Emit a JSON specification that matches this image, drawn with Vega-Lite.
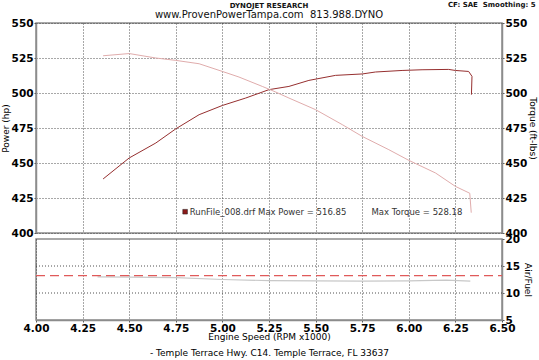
{
  "$schema": "https://vega.github.io/schema/vega-lite/v6.json",
  "background": "white",
  "padding": {"left": 0, "top": 0, "right": 0, "bottom": 0},
  "autosize": {"type": "pad"},
  "bounds": "flush",
  "spacing": 6,
  "config": {
    "font": "DejaVu Sans",
    "view": {"stroke": "#8c8c8c", "strokeWidth": 1.5},
    "axis": {
      "domainColor": "#8c8c8c",
      "domainWidth": 1.5,
      "tickColor": "#555555",
      "tickSize": 2,
      "labelFont": "DejaVu Sans",
      "labelFontWeight": "bold",
      "labelFontSize": 10.5,
      "labelColor": "#000000",
      "labelPadding": 1,
      "labelFlush": false,
      "labelOverlap": false,
      "titleFont": "DejaVu Sans",
      "titleFontWeight": "normal",
      "titleFontSize": 9,
      "titleColor": "#000000",
      "gridColor": "#333333",
      "gridDash": [1, 2],
      "gridWidth": 1,
      "gridOpacity": 0.85
    }
  },
  "vconcat": [
    {
      "width": 466,
      "height": 210,
      "layer": [
        {
          "layer": [
            {
              "data": {"values": [
                {"i": 1, "rpm": 4.36, "hp": 438.6},
                {"i": 2, "rpm": 4.50, "hp": 453.6},
                {"i": 3, "rpm": 4.643, "hp": 464.3},
                {"i": 4, "rpm": 4.75, "hp": 474.4},
                {"i": 5, "rpm": 4.875, "hp": 484.5},
                {"i": 6, "rpm": 5.0, "hp": 491.1},
                {"i": 7, "rpm": 5.125, "hp": 496.4},
                {"i": 8, "rpm": 5.25, "hp": 502.4},
                {"i": 9, "rpm": 5.357, "hp": 504.7},
                {"i": 10, "rpm": 5.464, "hp": 509.0},
                {"i": 11, "rpm": 5.607, "hp": 512.6},
                {"i": 12, "rpm": 5.75, "hp": 513.6},
                {"i": 13, "rpm": 5.821, "hp": 515.0},
                {"i": 14, "rpm": 5.964, "hp": 516.1},
                {"i": 15, "rpm": 6.071, "hp": 516.6},
                {"i": 16, "rpm": 6.214, "hp": 516.85},
                {"i": 17, "rpm": 6.25, "hp": 516.1},
                {"i": 18, "rpm": 6.321, "hp": 515.4},
                {"i": 19, "rpm": 6.339, "hp": 511.9},
                {"i": 20, "rpm": 6.336, "hp": 498.8}
              ]},
              "mark": {"type": "line", "color": "#962f2f", "strokeWidth": 1},
              "encoding": {
                "x": {"field": "rpm", "type": "quantitative", "scale": {"domain": [4, 6.5], "nice": false, "zero": false},
                      "axis": {"values": [4, 4.25, 4.5, 4.75, 5, 5.25, 5.5, 5.75, 6, 6.25, 6.5], "labels": false, "ticks": false, "domain": false, "title": null, "grid": true}},
                "y": {"field": "hp", "type": "quantitative", "scale": {"domain": [400, 550], "nice": false, "zero": false},
                      "axis": {"values": [400, 425, 450, 475, 500, 525, 550], "format": "d", "title": "Power (hp)", "titlePadding": 1, "grid": true}},
                "order": {"field": "i"}
              }
            },
            {
              "data": {"values": [{"t": "DYNOJET RESEARCH"}]},
              "mark": {"type": "text", "fontSize": 7, "fontWeight": "bold", "color": "#111111", "align": "center", "baseline": "middle"},
              "encoding": {"text": {"field": "t"},
                "x": {"datum": 5.25, "type": "quantitative", "axis": {"values": [4, 4.25, 4.5, 4.75, 5, 5.25, 5.5, 5.75, 6, 6.25, 6.5], "labels": false, "ticks": false, "domain": false, "title": null, "grid": true}},
                "y": {"datum": 562.5, "type": "quantitative", "axis": {"values": [400, 425, 450, 475, 500, 525, 550], "format": "d", "title": "Power (hp)", "titlePadding": 1, "grid": true}}}
            },
            {
              "data": {"values": [{"t": "www.ProvenPowerTampa.com\u00a0 813.988.DYNO"}]},
              "mark": {"type": "text", "fontSize": 10, "color": "#111111", "align": "center", "baseline": "middle"},
              "encoding": {"text": {"field": "t"},
                "x": {"datum": 5.25, "type": "quantitative", "axis": {"values": [4, 4.25, 4.5, 4.75, 5, 5.25, 5.5, 5.75, 6, 6.25, 6.5], "labels": false, "ticks": false, "domain": false, "title": null, "grid": true}},
                "y": {"datum": 555.8, "type": "quantitative", "axis": {"values": [400, 425, 450, 475, 500, 525, 550], "format": "d", "title": "Power (hp)", "titlePadding": 1, "grid": true}}}
            },
            {
              "data": {"values": [{"t": "CF: SAE\u00a0 Smoothing: 5"}]},
              "mark": {"type": "text", "fontSize": 7, "fontWeight": "bold", "color": "#111111", "align": "right", "baseline": "middle"},
              "encoding": {"text": {"field": "t"},
                "x": {"datum": 6.68, "type": "quantitative", "axis": {"values": [4, 4.25, 4.5, 4.75, 5, 5.25, 5.5, 5.75, 6, 6.25, 6.5], "labels": false, "ticks": false, "domain": false, "title": null, "grid": true}},
                "y": {"datum": 562.6, "type": "quantitative", "axis": {"values": [400, 425, 450, 475, 500, 525, 550], "format": "d", "title": "Power (hp)", "titlePadding": 1, "grid": true}}}
            },
            {
              "data": {"values": [{"t": "RunFile_008.drf"}]},
              "mark": {"type": "point", "shape": "square", "size": 22, "filled": true, "color": "#8b1a1a", "stroke": "#222222", "strokeWidth": 0.5, "opacity": 1},
              "encoding": {
                "x": {"datum": 4.80, "type": "quantitative", "axis": {"values": [4, 4.25, 4.5, 4.75, 5, 5.25, 5.5, 5.75, 6, 6.25, 6.5], "labels": false, "ticks": false, "domain": false, "title": null, "grid": true}},
                "y": {"datum": 415.2, "type": "quantitative", "axis": {"values": [400, 425, 450, 475, 500, 525, 550], "format": "d", "title": "Power (hp)", "titlePadding": 1, "grid": true}}}
            },
            {
              "data": {"values": [{"t": "RunFile_008.drf Max Power = 516.85"}]},
              "mark": {"type": "text", "fontSize": 8.5, "color": "#333333", "align": "left", "baseline": "middle"},
              "encoding": {"text": {"field": "t"},
                "x": {"datum": 4.825, "type": "quantitative", "axis": {"values": [4, 4.25, 4.5, 4.75, 5, 5.25, 5.5, 5.75, 6, 6.25, 6.5], "labels": false, "ticks": false, "domain": false, "title": null, "grid": true}},
                "y": {"datum": 415.2, "type": "quantitative", "axis": {"values": [400, 425, 450, 475, 500, 525, 550], "format": "d", "title": "Power (hp)", "titlePadding": 1, "grid": true}}}
            },
            {
              "data": {"values": [{"t": "Max Torque = 528.18"}]},
              "mark": {"type": "text", "fontSize": 8.5, "color": "#333333", "align": "left", "baseline": "middle"},
              "encoding": {"text": {"field": "t"},
                "x": {"datum": 5.80, "type": "quantitative", "axis": {"values": [4, 4.25, 4.5, 4.75, 5, 5.25, 5.5, 5.75, 6, 6.25, 6.5], "labels": false, "ticks": false, "domain": false, "title": null, "grid": true}},
                "y": {"datum": 415.2, "type": "quantitative", "axis": {"values": [400, 425, 450, 475, 500, 525, 550], "format": "d", "title": "Power (hp)", "titlePadding": 1, "grid": true}}}
            }
          ]
        },
        {
          "data": {"values": [
            {"i": 1, "rpm": 4.36, "tq": 526.6},
            {"i": 2, "rpm": 4.50, "tq": 528.18},
            {"i": 3, "rpm": 4.643, "tq": 525.0},
            {"i": 4, "rpm": 4.75, "tq": 523.3},
            {"i": 5, "rpm": 4.875, "tq": 520.9},
            {"i": 6, "rpm": 5.0, "tq": 515.4},
            {"i": 7, "rpm": 5.089, "tq": 511.4},
            {"i": 8, "rpm": 5.214, "tq": 504.7},
            {"i": 9, "rpm": 5.286, "tq": 500.7},
            {"i": 10, "rpm": 5.357, "tq": 496.4},
            {"i": 11, "rpm": 5.5, "tq": 488.1},
            {"i": 12, "rpm": 5.643, "tq": 477.4},
            {"i": 13, "rpm": 5.75, "tq": 469.0},
            {"i": 14, "rpm": 5.893, "tq": 459.5},
            {"i": 15, "rpm": 6.0, "tq": 451.9},
            {"i": 16, "rpm": 6.143, "tq": 442.9},
            {"i": 17, "rpm": 6.25, "tq": 433.3},
            {"i": 18, "rpm": 6.327, "tq": 428.4},
            {"i": 19, "rpm": 6.335, "tq": 414.5}
          ]},
          "mark": {"type": "line", "color": "#e0acac", "strokeWidth": 1},
          "encoding": {
            "x": {"field": "rpm", "type": "quantitative", "axis": {"values": [4, 4.25, 4.5, 4.75, 5, 5.25, 5.5, 5.75, 6, 6.25, 6.5], "labels": false, "ticks": false, "domain": false, "title": null, "grid": true}},
            "y": {"field": "tq", "type": "quantitative", "scale": {"domain": [400, 550], "nice": false, "zero": false},
                  "axis": {"orient": "right", "values": [400, 425, 450, 475, 500, 525, 550], "format": "d", "title": "Torque (ft-lbs)", "titleAngle": 90, "titlePadding": 1, "grid": false}},
            "order": {"field": "i"}
          }
        }
      ],
      "resolve": {"scale": {"y": "independent"}}
    },
    {
      "width": 466,
      "height": 81,
      "layer": [
        {
          "data": {"values": [{"afr": 10}, {"afr": 15}]},
          "mark": {"type": "rule", "color": "#333333", "strokeWidth": 1, "strokeDash": [1, 2], "opacity": 0.85},
          "encoding": {
            "y": {"field": "afr", "type": "quantitative", "scale": {"domain": [5, 20], "nice": false, "zero": false}, "axis": null}
          }
        },
        {
          "data": {"values": [
            {"rpm": 4.33, "afr": 13.0},
            {"rpm": 4.5, "afr": 12.95},
            {"rpm": 4.75, "afr": 12.85},
            {"rpm": 5.0, "afr": 12.5},
            {"rpm": 5.25, "afr": 12.3},
            {"rpm": 5.5, "afr": 12.25},
            {"rpm": 5.75, "afr": 12.2},
            {"rpm": 6.0, "afr": 12.25},
            {"rpm": 6.2, "afr": 12.4},
            {"rpm": 6.33, "afr": 12.2}
          ]},
          "mark": {"type": "line", "color": "#c8c8c8", "strokeWidth": 1.2},
          "encoding": {
            "x": {"field": "rpm", "type": "quantitative", "scale": {"domain": [4, 6.5], "nice": false, "zero": false},
                  "axis": {"values": [4, 4.25, 4.5, 4.75, 5, 5.25, 5.5, 5.75, 6, 6.25, 6.5], "format": ".2f", "grid": true, "labelPadding": 1,
                           "title": ["Engine Speed (RPM x1000)", "- Temple Terrace Hwy. C14. Temple Terrace, FL 33637"],
                           "titleLineHeight": 16, "titlePadding": -1}},
            "y": {"field": "afr", "type": "quantitative", "axis": null}
          }
        },
        {
          "data": {"values": [
            {"rpm": 4.0, "afr": 13.2},
            {"rpm": 6.5, "afr": 13.2}
          ]},
          "mark": {"type": "line", "color": "#e05a5a", "strokeWidth": 1.2, "strokeDash": [9, 5]},
          "encoding": {
            "x": {"field": "rpm", "type": "quantitative",
                  "axis": {"values": [4, 4.25, 4.5, 4.75, 5, 5.25, 5.5, 5.75, 6, 6.25, 6.5], "format": ".2f", "grid": true, "labelPadding": 1,
                           "title": ["Engine Speed (RPM x1000)", "- Temple Terrace Hwy. C14. Temple Terrace, FL 33637"],
                           "titleLineHeight": 16, "titlePadding": -1}},
            "y": {"field": "afr", "type": "quantitative",
                  "axis": {"orient": "right", "values": [5, 10, 15, 20], "title": "Air/Fuel", "titleAngle": 90, "titlePadding": 3, "grid": false}}
          }
        }
      ],
      "resolve": {"axis": {"y": "independent"}}
    }
  ]
}
